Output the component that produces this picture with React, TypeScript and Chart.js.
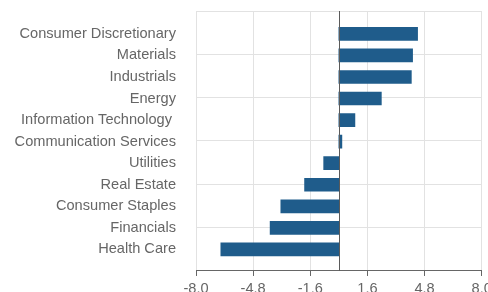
import React, { useEffect, useRef } from "react";
import { Chart, registerables } from "chart.js";

Chart.register(...registerables);

const categories = [
  "Consumer Discretionary",
  "Materials",
  "Industrials",
  "Energy",
  "Information Technology ",
  "Communication Services",
  "Utilities",
  "Real Estate",
  "Consumer Staples",
  "Financials",
  "Health Care",
];

const values = [4.41, 4.13, 4.06, 2.38, 0.9, 0.17, -0.85, -1.92, -3.25, -3.85, -6.61];

const xTickValues = [-8.0, -4.8, -1.6, 1.6, 4.8, 8.0];

const FONT = { family: "'Liberation Sans', Arial, sans-serif", size: 14.6 };
const TEXT = "#666666";

const zeroLine = {
  id: "zeroLine",
  afterDatasetsDraw(chart: any) {
    const { ctx, chartArea, scales } = chart;
    const x = Math.round(scales.x.getPixelForValue(0)) + 0.5;
    ctx.save();
    ctx.strokeStyle = "#5a5a5a";
    ctx.lineWidth = 1;
    ctx.beginPath();
    ctx.moveTo(x, chartArea.top);
    ctx.lineTo(x, chartArea.bottom);
    ctx.stroke();
    ctx.restore();
  },
};

export default function App() {
  const ref = useRef<HTMLCanvasElement | null>(null);

  useEffect(() => {
    document.body.style.margin = "0";
    document.body.style.overflow = "hidden";
    const canvas = ref.current;
    if (!canvas) return;
    const chart = new Chart(canvas, {
      type: "bar",
      data: {
        datasets: [
          {
            data: values.map((v, i) => ({ x: v, y: i })),
            backgroundColor: "#1f5c8b",
            borderWidth: 0,
            barThickness: 13,
          },
        ],
      },
      options: {
        indexAxis: "y",
        animation: false,
        responsive: false,
        maintainAspectRatio: false,
        layout: { padding: { top: 11, left: 0, right: 18.3, bottom: 0.5 } },
        plugins: {
          legend: { display: false },
          tooltip: { enabled: false },
        },
        scales: {
          x: {
            type: "linear",
            position: "bottom",
            min: -8,
            max: 8,
            offset: false,
            afterBuildTicks: (scale: any) => {
              scale.ticks = xTickValues.map((v) => ({ value: v }));
            },
            ticks: {
              callback: (v: any) => Number(v).toFixed(1),
              color: TEXT,
              font: FONT,
              padding: 4,
              maxRotation: 0,
              autoSkip: false,
            },
            grid: {
              offset: false,
              color: "#e2e2e2",
              tickColor: "#666666",
              tickLength: 5,
              drawTicks: true,
            },
            border: { display: true, color: "#666666", width: 1 },
          },
          y: {
            type: "linear",
            position: "left",
            reverse: true,
            offset: false,
            min: -1.06,
            max: 11,
            afterBuildTicks: (scale: any) => {
              scale.ticks = categories.map((_, i) => ({ value: i }));
            },
            afterFit: (scale: any) => {
              scale.width = 196;
              scale.paddingTop = 0;
              scale.paddingBottom = 0;
            },
            ticks: {
              callback: (v: any) => categories[v] ?? "",
              color: TEXT,
              font: FONT,
              padding: 20,
              autoSkip: false,
            },
            grid: { display: false, drawTicks: false, offset: false },
            border: { display: false },
          },
          y2: {
            type: "linear",
            position: "right",
            offset: false,
            min: 0,
            max: 6,
            afterBuildTicks: (scale: any) => {
              scale.ticks = [0, 1, 2, 3, 4, 5, 6].map((v) => ({ value: v }));
            },
            afterFit: (scale: any) => {
              scale.paddingTop = 0;
              scale.paddingBottom = 0;
            },
            ticks: { display: false },
            grid: { color: "#e2e2e2", drawTicks: false, offset: false },
            border: { display: false },
          },
        },
      },
      plugins: [zeroLine],
    });
    return () => chart.destroy();
  }, []);

  return (
    <div style={{ position: "fixed", left: 0, top: 0, width: 500, height: 302 }}>
      <canvas ref={ref} width={500} height={302} style={{ width: 500, height: 302 }} />
    </div>
  );
}
